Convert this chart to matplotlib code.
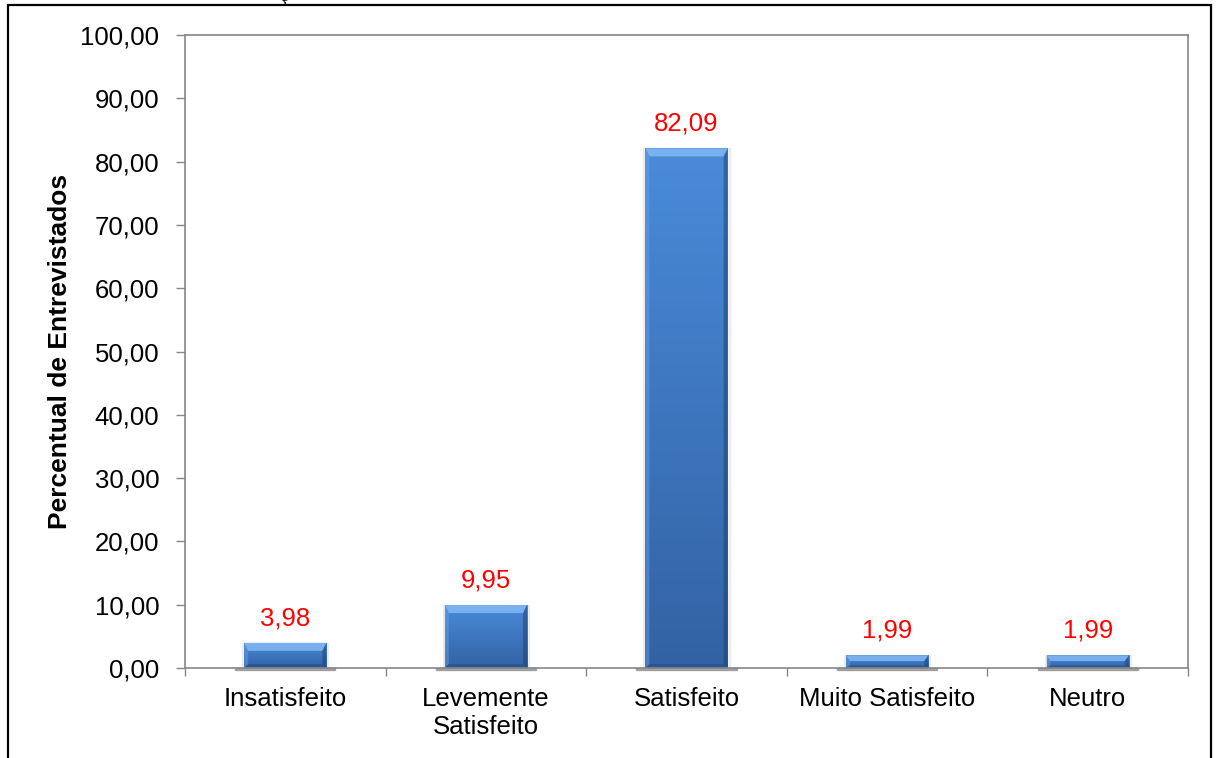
import numpy as np
import matplotlib.pyplot as plt
from matplotlib.patches import Polygon, Rectangle
from matplotlib.colors import LinearSegmentedColormap

# Dados de satisfação dos entrevistados (%)
categorias = ['Insatisfeito', 'Levemente\nSatisfeito', 'Satisfeito',
              'Muito Satisfeito', 'Neutro']
percentuais = [3.98, 9.95, 82.09, 1.99, 1.99]
yticks = np.arange(0, 101, 10)

plt.rcParams['font.family'] = ['Liberation Sans', 'DejaVu Sans']

fig = plt.figure(figsize=(12.18, 7.58), dpi=100)
ax = fig.add_axes([0.1519, 0.1187, 0.8235, 0.8351])

cinza = '#868686'
largura = 0.41
x = np.arange(len(categorias))

ax.set_xlim(-0.5, len(categorias) - 0.5)
ax.set_ylim(0, 100)

# pixels por unidade, para o chanfro das barras
bb = ax.get_window_extent()
px_x = bb.width / 5.0
px_y = bb.height / 100.0

grad = LinearSegmentedColormap.from_list('azul', ['#3262a3', '#4a8bda'])
g = np.linspace(0, 1, 256).reshape(-1, 1)

barras = ax.bar(x, percentuais, width=largura, color='#3f7dc9', zorder=2)
for b, v in zip(barras, percentuais):
    x0 = b.get_x()
    x1 = x0 + b.get_width()
    # sombra
    ax.add_patch(Rectangle((x0 - 0.045, -0.35), x1 - x0 + 0.09, 0.35,
                           color='#707070', alpha=0.55, zorder=1.5, clip_on=False))
    ax.add_patch(Rectangle((x0 - 0.01, 0), x1 - x0 + 0.02, v,
                           color='#c8c8c8', alpha=0.25, zorder=1.5))
    im = ax.imshow(g, extent=[x0, x1, 0, v], origin='lower', aspect='auto',
                   cmap=grad, zorder=2.1)
    im.set_clip_path(b)
    h = v * px_y
    bx = 4.0 / px_x
    bt = min(8.0, h * 0.45) / px_y
    bd = min(4.0, h * 0.2) / px_y
    ax.add_patch(Polygon([(x0, v), (x1, v), (x1 - bx, v - bt), (x0 + bx, v - bt)],
                         closed=True, color='#7fb5f2', alpha=0.9, lw=0, zorder=2.3))
    ax.add_patch(Polygon([(x0, 0), (x0, v), (x0 + bx, v - bt), (x0 + bx, bd)],
                         closed=True, color='#6aa3e6', alpha=0.45, lw=0, zorder=2.3))
    ax.add_patch(Polygon([(x1, 0), (x1, v), (x1 - bx, v - bt), (x1 - bx, bd)],
                         closed=True, color='#183f70', alpha=0.5, lw=0, zorder=2.3))
    ax.add_patch(Polygon([(x0, 0), (x1, 0), (x1 - bx, bd), (x0 + bx, bd)],
                         closed=True, color='#1d4780', alpha=0.45, lw=0, zorder=2.3))
    ax.annotate(f'{v:.2f}'.replace('.', ','), (b.get_x() + b.get_width() / 2, v),
                xytext=(0, 9), textcoords='offset points', ha='center',
                va='bottom', color='red', fontsize=18.5)

ax.set_xlim(-0.5, len(categorias) - 0.5)
ax.set_ylim(0, 100)

ax.set_yticks(yticks)
ax.set_yticklabels([f'{t:.2f}'.replace('.', ',') for t in yticks])
ax.set_xticks(x)
ax.set_xticklabels(categorias)
ax.set_xticks(np.arange(-0.5, len(categorias)), minor=True)
ax.tick_params(axis='x', which='major', length=0, pad=14, labelsize=18.5)
ax.tick_params(axis='x', which='minor', length=6, width=1.0, color=cinza)
ax.tick_params(axis='y', length=6.5, width=1.0, color=cinza, pad=12,
               labelsize=18.5)
for s in ax.spines.values():
    s.set_color(cinza)
    s.set_linewidth(1.2)

ax.set_ylabel('Percentual de Entrevistados', fontsize=19, fontweight='bold',
              labelpad=6)

# moldura externa
fig.patches.append(Rectangle((8 / 1218, -0.1), 1203 / 1218, 1.1 - 5 / 758,
                             transform=fig.transFigure, fill=False,
                             edgecolor='black', lw=1.6))
fig.text(283 / 1218, 1 - 1 / 758, 'ç', ha='center', va='baseline',
         fontsize=13, family='Liberation Serif')

fig.savefig('out.png', dpi=100)
